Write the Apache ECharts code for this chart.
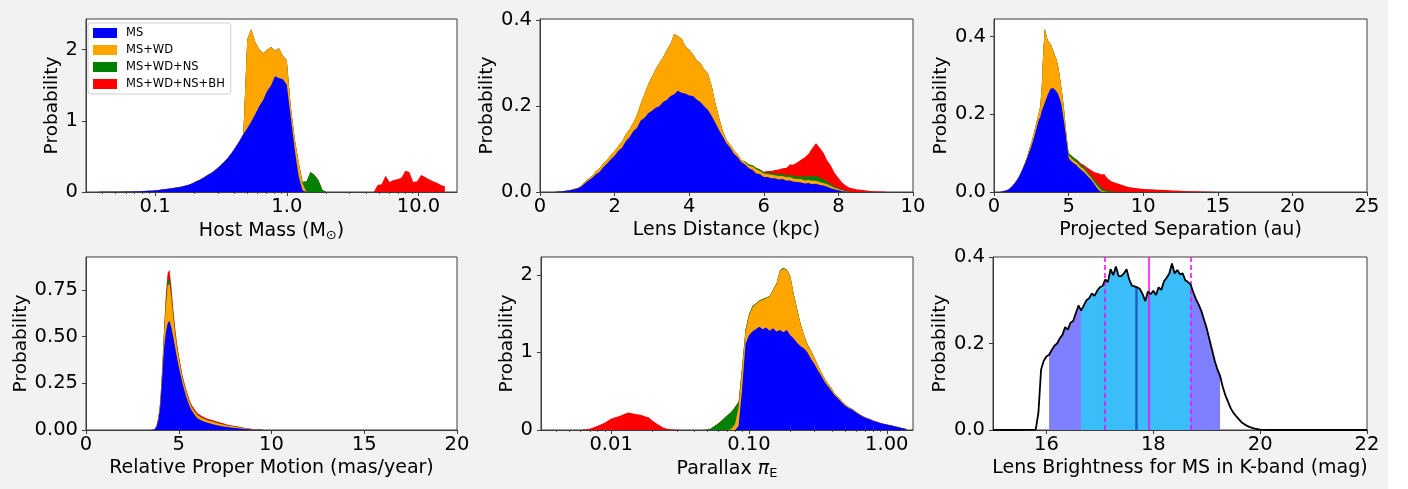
<!DOCTYPE html>
<html><head><meta charset="utf-8">
<script src="https://cdn.jsdelivr.net/npm/echarts@6/dist/echarts.min.js"></script>
<style>
html,body{margin:0;padding:0;background:#fff;}
#c{width:1408px;height:489px;background:linear-gradient(to right,#f2f2f2 0,#f2f2f2 1388px,#ffffff 1388px);}
</style></head><body><div id="c"></div>
<script>
// ---------- legend / categories ----------
const NAMES = ['MS', 'MS+WD', 'MS+WD+NS', 'MS+WD+NS+BH'];
const COLORS = ['#0000ff', '#ffa500', '#008000', '#ff0000'];

// ---------- Panel 1: Host mass (log bins) ----------
const massBins = [0.0339,0.0363,0.0389,0.0417,0.0447,0.0479,0.0513,0.0550,0.0589,0.0631,
0.0676,0.0724,0.0776,0.0832,0.0891,0.0955,0.102,0.110,0.117,0.126,
0.135,0.145,0.155,0.166,0.178,0.191,0.204,0.219,0.234,0.251,
0.269,0.288,0.309,0.331,0.355,0.380,0.407,0.437,0.468,0.501,
0.537,0.575,0.617,0.661,0.708,0.759,0.813,0.871,0.933,1.000,
1.072,1.148,1.230,1.318,1.413,1.514,1.622,1.738,1.862,1.995,
2.138,2.291,2.455,2.630,2.818,3.020,3.236,3.467,3.715,3.981,
4.266,4.571,4.898,5.248,5.623,6.026,6.457,6.918,7.413,7.943,
8.511,9.120,9.772,10.47,11.22,12.02,12.88,13.80,14.79,15.85];
const massMS = [0,0.001,0.002,0.002,0.003,0.003,0.004,0.005,0.006,0.007,
0.008,0.010,0.011,0.013,0.016,0.019,0.024,0.030,0.037,0.045,
0.053,0.062,0.071,0.083,0.098,0.120,0.146,0.172,0.203,0.238,
0.272,0.312,0.360,0.415,0.475,0.545,0.625,0.715,0.810,0.895,
0.985,1.090,1.205,1.290,1.415,1.495,1.625,1.600,1.585,1.510,
1.050,0.600,0.220,0.020,0,0,0,0,0,0,
0,0,0,0,0,0,0,0,0,0,
0,0,0,0,0,0,0,0,0,0,
0,0,0,0,0,0,0,0,0,0];
const massWD = [0,0,0,0,0,0,0,0,0,0,
0,0,0,0,0,0,0,0,0,0,
0,0,0,0,0,0,0,0,0,0,
0,0,0,0,0,0,0,0,0,1.25,
1.30,1.02,0.80,0.66,0.58,0.54,0.36,0.42,0.33,0.34,
0.15,0.15,0.20,0.10,0,0,0,0,0,0,
0,0,0,0,0,0,0,0,0,0,
0,0,0,0,0,0,0,0,0,0,
0,0,0,0,0,0,0,0,0,0];
const massNS = [0,0,0,0,0,0,0,0,0,0,
0,0,0,0,0,0,0,0,0,0,
0,0,0,0,0,0,0,0,0,0,
0,0,0,0,0,0,0,0,0,0,
0,0,0,0,0,0,0,0,0,0,
0,0,0,0.02,0.15,0.28,0.24,0.17,0.03,0,
0,0,0,0,0,0,0,0,0,0,
0,0,0,0,0,0,0,0,0,0,
0,0,0,0,0,0,0,0,0,0];
const massBH = [0,0,0,0,0,0,0,0,0,0,
0,0,0,0,0,0,0,0,0,0,
0,0,0,0,0,0,0,0,0,0,
0,0,0,0,0,0,0,0,0,0,
0,0,0,0,0,0,0,0,0,0,
0,0,0,0,0,0,0,0,0,0,
0,0,0,0,0,0,0,0,0,0,
0,0,0.10,0.11,0.23,0.14,0.17,0.18,0.20,0.30,
0.28,0.14,0.15,0.24,0.21,0.18,0.15,0.13,0.10,0.08];
const massTicks = [0.1, 1, 10];
const massMinorTicks = [0.04,0.05,0.06,0.07,0.08,0.09,0.2,0.3,0.4,0.5,0.6,0.7,0.8,0.9,2,3,4,5,6,7,8,9];
const massYTicks = [0, 1, 2];

// ---------- Panel 2: Lens distance ----------
const distBins = [0.4,0.5,0.6,0.7,0.8,0.9,
1.0,1.1,1.2,1.3,1.4,1.5,1.6,1.7,1.8,1.9,
2.0,2.1,2.2,2.3,2.4,2.5,2.6,2.7,2.8,2.9,
3.0,3.1,3.2,3.3,3.4,3.5,3.6,3.7,3.8,3.9,
4.0,4.1,4.2,4.3,4.4,4.5,4.6,4.7,4.8,4.9,
5.0,5.1,5.2,5.3,5.4,5.5,5.6,5.7,5.8,5.9,
6.0,6.1,6.2,6.3,6.4,6.5,6.6,6.7,6.8,6.9,
7.0,7.1,7.2,7.3,7.4,7.5,7.6,7.7,7.8,7.9,
8.0,8.1,8.2,8.3,8.4,8.5,8.6,8.7,8.8,8.9,
9.0,9.1,9.2,9.3,9.4,9.5];
const distMS = [0,0.001,0.002,0.003,0.004,0.006,
0.008,0.012,0.020,0.027,0.033,0.041,0.047,0.058,0.066,0.076,
0.084,0.096,0.103,0.118,0.127,0.141,0.149,0.166,0.172,0.183,
0.189,0.196,0.199,0.209,0.214,0.223,0.227,0.235,0.230,0.229,
0.224,0.223,0.215,0.209,0.199,0.191,0.177,0.161,0.144,0.129,
0.113,0.103,0.089,0.081,0.069,0.064,0.055,0.051,0.043,0.041,
0.035,0.035,0.032,0.032,0.029,0.030,0.027,0.027,0.024,0.023,
0.022,0.020,0.021,0.018,0.019,0.016,0.015,0.012,0.009,0.006,
0.004,0.002,0.001,0,0,0,0,0,0,0,
0,0,0,0,0,0];
const distWD = [0,0,0,0,0,0.001,
0.001,0.002,0.003,0.004,0.005,0.007,0.008,0.008,0.009,0.010,
0.011,0.011,0.014,0.016,0.019,0.020,0.030,0.039,0.056,0.067,
0.079,0.089,0.101,0.104,0.116,0.121,0.141,0.127,0.126,0.109,
0.106,0.097,0.091,0.091,0.086,0.085,0.070,0.046,0.029,0.013,
0.008,0.007,0.008,0.006,0.005,0.005,0.006,0.008,0.010,0.008,
0.008,0.007,0.008,0.007,0.008,0.007,0.007,0.008,0.007,0.007,
0.008,0.007,0.007,0.008,0.007,0.007,0.006,0.006,0.005,0.004,
0.003,0.002,0.001,0,0,0,0,0,0,0,
0,0,0,0,0,0];
const distNS = [0,0,0,0,0,0,
0,0,0,0,0,0,0,0,0,0,
0,0,0,0,0,0,0,0,0,0,
0,0,0,0,0,0,0,0,0,0,
0,0,0,0,0,0,0,0,0,0,
0,0,0,0,0,0.002,0.003,0.003,0.003,0.003,
0.003,0.003,0.004,0.004,0.004,0.005,0.005,0.005,0.006,0.006,
0.007,0.008,0.009,0.010,0.012,0.010,0.008,0.006,0.004,0.003,
0.002,0.002,0.001,0.001,0,0,0,0,0,0,
0,0,0,0,0,0];
const distBH = [0,0,0,0,0,0,
0,0,0,0,0,0,0,0,0,0,
0,0,0,0,0,0,0,0,0,0,
0,0,0,0,0,0,0,0,0,0,
0,0,0,0,0,0,0,0,0,0,
0,0,0,0,0,0,0,0,0,0,
0.001,0.004,0.005,0.008,0.011,0.013,0.017,0.024,0.027,0.033,
0.038,0.046,0.052,0.066,0.075,0.070,0.062,0.050,0.043,0.031,
0.024,0.016,0.012,0.009,0.008,0.006,0.005,0.004,0.003,0.002,
0.002,0.001,0.001,0,0,0];
const distTicks = [0, 2, 4, 6, 8, 10];
const distYTicks = [0, 0.2, 0.4];

// ---------- Panel 3: Projected separation ----------
const sepBins = [0.4,0.5,0.6,0.7,0.8,0.9,
1.0,1.1,1.2,1.3,1.4,1.5,1.6,1.7,1.8,1.9,
2.0,2.1,2.2,2.3,2.4,2.5,2.6,2.7,2.8,2.9,
3.0,3.1,3.2,3.3,3.4,3.5,3.6,3.7,3.8,3.9,
4.0,4.1,4.2,4.3,4.4,4.5,4.6,4.7,4.8,4.9,
5.0,5.1,5.2,5.3,5.4,5.5,5.6,5.7,5.8,5.9,
6.0,6.1,6.2,6.3,6.4,6.5,6.6,6.7,6.8,6.9,
7.0,7.1,7.2,7.3,7.4,7.5,7.6,7.7,7.8,7.9,
8.0,
8.5,9.0,9.5,10.0,10.5,11.0,11.5,12.0,12.5,13.0,13.5,14.0,14.5,15.0];
const sepMS = [0,0.001,0.002,0.003,0.004,0.005,
0.007,0.010,0.014,0.018,0.023,0.028,0.034,0.041,0.049,0.057,
0.066,0.075,0.085,0.096,0.107,0.117,0.130,0.143,0.157,0.171,
0.186,0.192,0.209,0.212,0.229,0.234,0.250,0.255,0.266,0.262,
0.267,0.265,0.258,0.252,0.240,0.229,0.205,0.178,0.150,0.120,
0.088,0.082,0.078,0.075,0.072,0.070,0.066,0.062,0.058,0.055,
0.053,0.049,0.045,0.040,0.036,0.032,0.027,0.022,0.016,0.010,
0.005,0.002,0,0,0,0,0,0,0,0,
0,
0,0,0,0,0,0,0,0,0,0,0,0,0,0];
const sepWD = [0,0,0,0,0,0,
0,0,0,0,0,0.001,0.001,0.001,0.001,0.001,
0.002,0.003,0.004,0.006,0.008,0.009,0.011,0.013,0.015,0.016,
0.017,0.028,0.061,0.148,0.191,0.171,0.140,0.140,0.114,0.108,
0.093,0.090,0.082,0.071,0.060,0.043,0.040,0.032,0.020,0.010,
0.006,0.008,0.008,0.009,0.008,0.008,0.008,0.007,0.007,0.007,
0.007,0.007,0.006,0.006,0.006,0.006,0.006,0.006,0.006,0.007,
0.007,0.006,0.004,0.002,0.001,0,0,0,0,0,
0,
0,0,0,0,0,0,0,0,0,0,0,0,0,0];
const sepNS = [0,0,0,0,0,0,
0,0,0,0,0,0,0,0,0,0,
0,0,0,0,0,0,0,0,0,0,
0,0,0,0,0,0,0,0,0,0,
0,0,0,0,0,0,0,0,0,0.002,
0.006,0.007,0.007,0.007,0.007,0.007,0.006,0.006,0.006,0.006,
0.006,0.006,0.005,0.005,0.005,0.005,0.005,0.005,0.006,0.007,
0.008,0.008,0.007,0.006,0.005,0.004,0.003,0.002,0.002,0.001,
0.001,
0,0,0,0,0,0,0,0,0,0,0,0,0,0];
const sepBH = [0,0,0,0,0,0,
0,0,0,0,0,0,0,0,0,0,
0,0,0,0,0,0,0,0,0,0,
0,0,0,0,0,0,0,0,0,0,
0,0,0,0,0,0,0,0,0,0,
0,0,0,0,0,0.001,0.002,0.002,0.003,0.003,
0.004,0.006,0.008,0.010,0.012,0.014,0.016,0.019,0.022,0.025,
0.028,0.031,0.034,0.038,0.040,0.036,0.032,0.030,0.028,0.026,
0.025,
0.019,0.013,0.010,0.008,0.007,0.006,0.005,0.004,0.003,0.002,0.002,0.001,0.0005,0];
const sepTicks = [0, 5, 10, 15, 20, 25];
const sepYTicks = [0, 0.2, 0.4];

// ---------- Panel 4: Relative proper motion ----------
const pmBins = [3.5,3.6,3.7,3.8,3.9,
4.0,4.1,4.2,4.3,4.4,4.5,4.6,4.7,4.8,4.9,
5.0,5.1,5.2,5.3,5.4,5.5,5.6,5.7,5.8,5.9,
6.0,6.1,6.2,6.3,6.4,6.5,6.6,6.7,6.8,6.9,
7.0,7.1,7.2,7.3,7.4,7.5,7.6,7.7,7.8,7.9,
8.0,8.1,8.2,8.3,8.4,8.5,8.6,8.7,8.8,8.9,
9.0,9.1,9.2,9.3,9.4,9.5,9.6,9.7,9.8,9.9,
10.0];
const pmMS = [0,0,0.004,0.018,0.054,
0.125,0.27,0.43,0.52,0.57,0.585,0.55,0.50,0.446,0.39,
0.34,0.295,0.25,0.215,0.18,0.15,0.125,0.105,0.09,0.075,
0.063,0.057,0.052,0.048,0.044,0.040,0.037,0.034,0.032,0.029,
0.027,0.025,0.023,0.021,0.019,0.018,0.016,0.015,0.013,0.012,
0.011,0.010,0.009,0.008,0.007,0.006,0.005,0.005,0.004,0.003,
0.003,0.002,0.002,0.001,0.001,0.001,0,0,0,0,
0];
const pmWD = [0,0,0.001,0.004,0.010,
0.018,0.03,0.07,0.14,0.20,0.20,0.16,0.11,0.074,0.056,
0.044,0.036,0.027,0.025,0.025,0.022,0.018,0.017,0.017,0.017,
0.017,0.016,0.015,0.015,0.014,0.014,0.013,0.013,0.013,0.012,
0.012,0.011,0.011,0.010,0.010,0.009,0.008,0.008,0.008,0.007,
0.007,0.006,0.006,0.005,0.005,0.004,0.004,0.003,0.003,0.003,
0.002,0.002,0.001,0.001,0.001,0.001,0,0,0,0,
0];
const pmNS = [0,0,0,0,0.001,
0.004,0.008,0.015,0.025,0.03,0.03,0.025,0.018,0.012,0.008,
0.006,0.005,0.005,0.004,0.004,0.004,0.004,0.003,0.003,0.003,
0.003,0.003,0.003,0.002,0.002,0.002,0.002,0.002,0.002,0.002,
0.002,0.002,0.002,0.002,0.002,0.001,0.001,0.001,0.001,0.001,
0.001,0.001,0.001,0.001,0.001,0,0,0,0,0,
0,0,0,0,0,0,0,0,0,0,
0];
const pmBH = [0,0,0,0,0.001,
0.003,0.006,0.012,0.03,0.04,0.045,0.035,0.025,0.018,0.015,
0.013,0.012,0.011,0.011,0.010,0.010,0.010,0.009,0.009,0.009,
0.008,0.008,0.008,0.007,0.007,0.007,0.007,0.006,0.006,0.006,
0.006,0.005,0.005,0.005,0.005,0.004,0.004,0.004,0.004,0.003,
0.003,0.003,0.003,0.002,0.002,0.002,0.002,0.002,0.001,0.001,
0.001,0.001,0.001,0.001,0.001,0,0,0,0,0,
0];
const pmTicks = [0, 5, 10, 15, 20];
const pmYTicks = [0, 0.25, 0.5, 0.75];

// ---------- Panel 5: Parallax (log bins) ----------
const plxBins = [0.00562,0.00596,0.00631,0.00668,0.00708,0.00750,0.00794,0.00841,0.00891,0.00944,
0.0100,0.01059,0.01122,0.01189,0.01259,0.01334,0.01413,0.01496,0.01585,0.01679,
0.01778,0.01884,0.01995,0.02113,0.02239,0.02371,0.02512,0.02661,0.02818,0.02985,
0.03162,0.03350,0.03548,0.03758,0.03981,0.04217,0.04467,0.04732,0.05012,0.05309,
0.05623,0.05957,0.06310,0.06683,0.07079,0.07499,0.07943,0.08414,0.08913,0.09441,
0.1000,0.1059,0.1122,0.1189,0.1259,0.1334,0.1413,0.1496,0.1585,0.1679,
0.1778,0.1884,0.1995,0.2113,0.2239,0.2371,0.2512,0.2661,0.2818,0.2985,
0.3162,0.3350,0.3548,0.3758,0.3981,0.4217,0.4467,0.4732,0.5012,0.5309,
0.5623,0.5957,0.6310,0.6683,0.7079,0.7499,0.7943,0.8414,0.8913,0.9441,
1.000,1.059,1.122,1.189,1.259,1.334,1.413];
const plxMS = [0,0,0,0,0,0,0,0,0,0,
0,0,0,0,0,0,0,0,0,0,
0,0,0,0,0,0,0,0,0,0,
0,0,0,0,0,0,0,0,0,0,
0,0,0,0,0,0,0,0.05,0.52,1.11,
1.22,1.27,1.30,1.33,1.30,1.32,1.28,1.31,1.27,1.29,
1.26,1.29,1.22,1.18,1.12,1.08,1.05,1.00,0.92,0.85,
0.77,0.70,0.62,0.56,0.50,0.44,0.40,0.35,0.31,0.28,
0.26,0.23,0.20,0.175,0.155,0.14,0.12,0.105,0.09,0.08,
0.07,0.06,0.05,0.04,0.03,0.02,0.01];
const plxWD = [0,0,0,0,0,0,0,0,0,0,
0,0,0,0,0,0,0,0,0,0,
0,0,0,0,0,0,0,0,0,0,
0,0,0,0,0,0,0,0,0,0,
0,0,0,0,0,0.02,0.08,0.25,0.25,0.15,
0.25,0.31,0.32,0.33,0.38,0.38,0.44,0.49,0.61,0.76,
0.82,0.77,0.76,0.57,0.43,0.28,0.17,0.10,0.10,0.08,
0.06,0.04,0.04,0.03,0.03,0.02,0.02,0.015,0.012,0.010,
0.008,0.007,0.006,0.005,0.004,0.004,0.003,0.003,0.002,0.002,
0.002,0.001,0.001,0.001,0,0,0];
const plxNS = [0,0,0,0,0,0,0,0,0,0,
0,0,0,0,0,0,0,0,0,0,
0,0,0,0,0,0,0,0,0,0,
0,0,0,0,0,0,0,0,0.005,0.02,
0.05,0.08,0.12,0.16,0.20,0.22,0.22,0.06,0.04,0.03,
0.02,0.015,0.012,0.01,0.008,0.008,0.008,0.008,0.008,0.008,
0.008,0.006,0.006,0.006,0.006,0.006,0.006,0.006,0.004,0.004,
0.004,0.004,0.004,0.004,0.004,0.002,0.002,0.002,0.002,0.002,
0.002,0,0,0,0,0,0,0,0,0,
0,0,0,0,0,0,0];
const plxBH = [0,0,0.005,0.01,0.02,0.035,0.05,0.07,0.09,0.12,
0.145,0.16,0.175,0.19,0.21,0.225,0.215,0.205,0.20,0.19,
0.175,0.16,0.12,0.09,0.06,0.035,0.02,0.01,0.005,0.002,
0,0,0,0,0,0,0,0,0,0,
0,0,0,0,0,0,0,0,0,0,
0,0,0,0,0,0,0,0,0,0,
0,0,0,0,0,0,0,0,0,0,
0,0,0,0,0,0,0,0,0,0,
0,0,0,0,0,0,0,0,0,0,
0,0,0,0,0,0,0];
const plxTicks = [0.01, 0.1, 1];
const plxMinorTicks = [0.004,0.005,0.006,0.007,0.008,0.009,0.02,0.03,0.04,0.05,0.06,0.07,0.08,0.09,0.2,0.3,0.4,0.5,0.6,0.7,0.8,0.9];
const plxYTicks = [0, 1, 2];

// ---------- Panel 6: K-band lens brightness ----------
const kBins = [15.0,15.4,
15.8,15.85,15.9,15.95,
16.0,16.05,16.1,16.15,16.2,16.25,16.3,16.35,16.4,16.45,16.5,16.55,16.6,16.65,16.7,16.75,16.8,16.85,16.9,16.95,
17.0,17.05,17.1,17.15,17.2,17.25,17.3,17.35,17.4,17.45,17.5,17.55,17.6,17.65,17.7,17.75,17.8,17.85,17.9,17.95,
18.0,18.05,18.1,18.15,18.2,18.25,18.3,18.35,18.4,18.45,18.5,18.55,18.6,18.65,18.7,18.75,18.8,18.85,18.9,18.95,
19.0,19.05,19.1,19.15,19.2,19.25,19.3,19.35,19.4,19.45,19.5,19.55,19.6,19.65,19.7,19.75,19.8,19.85,19.9,19.95,
20.0,20.2,21.0,22.0];
const kProb = [0,0,
0.001,0.04,0.14,0.16,
0.170,0.174,0.185,0.195,0.200,0.212,0.220,0.238,0.232,0.248,0.252,0.270,0.288,0.276,0.288,0.300,0.305,0.316,0.310,0.322,
0.330,0.333,0.348,0.342,0.372,0.358,0.378,0.356,0.356,0.362,0.372,0.348,0.334,0.332,0.330,0.326,0.314,0.298,0.320,0.314,
0.322,0.312,0.330,0.324,0.344,0.352,0.362,0.385,0.362,0.370,0.360,0.362,0.346,0.342,0.336,0.318,0.302,0.290,0.275,0.255,
0.235,0.210,0.185,0.160,0.140,0.125,0.100,0.080,0.065,0.050,0.040,0.032,0.025,0.018,0.014,0.010,0.007,0.005,0.003,0.002,
0.001,0,0,0];
const kbandOuter = [16.05, 19.25];   // purple shaded interval
const kbandInner = [16.65, 18.70];   // light-blue shaded interval
const kbandPeak = 17.69;             // dark blue marker
const kbandMagenta = 17.91;          // solid magenta line
const kbandMagentaRange = [17.10, 18.71]; // dashed magenta lines
const kTicks = [16, 18, 20, 22];
const kYTicks = [0, 0.2, 0.4];

// ---------- helpers ----------
function check(name, bins, arrs) {
  arrs.forEach((a, j) => { if (a.length !== bins.length) throw new Error(name + ' series ' + j + ' length ' + a.length + ' != ' + bins.length); });
}
check('mass', massBins, [massMS, massWD, massNS, massBH]);
check('dist', distBins, [distMS, distWD, distNS, distBH]);
check('sep', sepBins, [sepMS, sepWD, sepNS, sepBH]);
check('pm', pmBins, [pmMS, pmWD, pmNS, pmBH]);
check('plx', plxBins, [plxMS, plxWD, plxNS, plxBH]);
check('k', kBins, [kProb]);

const FONT = 'DejaVu Sans';
const AX = '#3c3c3c';

function cumulative(comps) {
  const out = [];
  let run = comps[0].map(() => 0);
  comps.forEach(c => { run = run.map((v, i) => v + c[i]); out.push(run); });
  return out;
}
function histSeries(gi, bins, comps) {
  const cum = cumulative(comps);
  const s = [];
  for (let j = 3; j >= 0; j--) {
    s.push({
      type: 'line', name: NAMES[j], xAxisIndex: gi, yAxisIndex: gi,
      symbol: 'none', silent: true,
      lineStyle: { width: 0 }, itemStyle: { color: COLORS[j] },
      areaStyle: { color: COLORS[j], opacity: 1 },
      data: bins.map((x, i) => [x, cum[j][i]])
    });
  }
  return s;
}
function axis(gi, o, isX) {
  return {
    gridIndex: gi, type: o.type || 'value', min: o.min, max: o.max,
    position: isX ? 'bottom' : 'left',
    name: o.name, nameLocation: 'middle', nameGap: o.nameGap,
    nameRotate: isX ? 0 : 90,
    nameTextStyle: { fontFamily: FONT, fontSize: isX ? 19 : 18.5, color: '#000', rich: o.rich || {} },
    axisLine: { show: true, onZero: false, lineStyle: { color: AX, width: 1 } },
    axisTick: { show: true, inside: false, length: 4, customValues: o.ticks, lineStyle: { color: AX, width: 1 } },
    axisLabel: { show: true, customValues: o.ticks, formatter: o.fmt, fontFamily: FONT, fontSize: 19.5, color: '#000', margin: isX ? 5 : 8 },
    splitLine: { show: false }, splitArea: { show: false },
    minorTick: { show: false }, minorSplitLine: { show: false }
  };
}
function minorAxis(gi, min, max, ticks) {
  return {
    gridIndex: gi, type: 'log', min: min, max: max, position: 'bottom',
    axisLine: { show: false }, axisLabel: { show: false },
    axisTick: { show: true, inside: false, length: 2, customValues: ticks, lineStyle: { color: AX, width: 0.8 } },
    splitLine: { show: false }
  };
}
const subRich = { s: { fontFamily: FONT, fontSize: 13, color: '#000', padding: [8, 0, 0, 0] },
                  i: { fontFamily: FONT, fontSize: 19, fontStyle: 'italic', color: '#000' } };

const grids = [
  { left: 86, top: 19, width: 371, height: 173 },
  { left: 540, top: 19, width: 373, height: 173 },
  { left: 994, top: 19, width: 373, height: 173 },
  { left: 86, top: 257, width: 371, height: 173 },
  { left: 541, top: 257, width: 372, height: 173 },
  { left: 993, top: 257, width: 374, height: 173 }
].map(g => Object.assign({ show: true, backgroundColor: '#ffffff', borderColor: AX, borderWidth: 1, containLabel: false, outerBoundsMode: 'none' }, g));

const fmt1 = v => Number(v).toFixed(1);
const fmt2 = v => Number(v).toFixed(2);
const fmt0 = v => String(v);

const xAxes = [
  axis(0, { type: 'log', min: 0.0299, max: 19.6, ticks: massTicks, fmt: fmt1, name: 'Host Mass (M{s|⊙})', nameGap: 29, rich: subRich }, true),
  axis(1, { min: 0, max: 10, ticks: distTicks, fmt: fmt0, name: 'Lens Distance (kpc)', nameGap: 29 }, true),
  axis(2, { min: 0, max: 25, ticks: sepTicks, fmt: fmt0, name: 'Projected Separation (au)', nameGap: 29 }, true),
  axis(3, { min: 0, max: 20, ticks: pmTicks, fmt: fmt0, name: 'Relative Proper Motion (mas/year)', nameGap: 29 }, true),
  axis(4, { type: 'log', min: 0.0031, max: 1.55, ticks: plxTicks, fmt: fmt2, name: 'Parallax {i|π}{s|E}', nameGap: 29, rich: subRich }, true),
  axis(5, { min: 15, max: 22, ticks: kTicks, fmt: fmt0, name: 'Lens Brightness for MS in K-band (mag)', nameGap: 29 }, true),
  minorAxis(0, 0.0299, 19.6, massMinorTicks),
  minorAxis(4, 0.0031, 1.55, plxMinorTicks)
];
const yAxes = [
  axis(0, { min: 0, max: 2.43, ticks: massYTicks, fmt: fmt0, name: 'Probability', nameGap: 17.5 }, false),
  axis(1, { min: 0, max: 0.402, ticks: distYTicks, fmt: fmt1, name: 'Probability', nameGap: 36.5 }, false),
  axis(2, { min: 0, max: 0.445, ticks: sepYTicks, fmt: fmt1, name: 'Probability', nameGap: 35 }, false),
  axis(3, { min: 0, max: 0.927, ticks: pmYTicks, fmt: fmt2, name: 'Probability', nameGap: 49 }, false),
  axis(4, { min: 0, max: 2.23, ticks: plxYTicks, fmt: fmt0, name: 'Probability', nameGap: 21 }, false),
  axis(5, { min: 0, max: 0.4, ticks: kYTicks, fmt: fmt1, name: 'Probability', nameGap: 33.5 }, false)
];

let series = [];
series = series.concat(histSeries(0, massBins, [massMS, massWD, massNS, massBH]));
series = series.concat(histSeries(1, distBins, [distMS, distWD, distNS, distBH]));
series = series.concat(histSeries(2, sepBins, [sepMS, sepWD, sepNS, sepBH]));
series = series.concat(histSeries(3, pmBins, [pmMS, pmWD, pmNS, pmBH]));
series = series.concat(histSeries(4, plxBins, [plxMS, plxWD, plxNS, plxBH]));

// panel 6
function kValueAt(x) {
  for (let i = 1; i < kBins.length; i++) {
    if (kBins[i] >= x) {
      const t = (x - kBins[i - 1]) / (kBins[i] - kBins[i - 1]);
      return kProb[i - 1] + t * (kProb[i] - kProb[i - 1]);
    }
  }
  return 0;
}
function kRange(r) {
  return kBins.map((x, i) => [x, kProb[i]]).filter(p => p[0] >= r[0] - 1e-9 && p[0] <= r[1] + 1e-9);
}
series.push({
  type: 'line', xAxisIndex: 5, yAxisIndex: 5, symbol: 'none', silent: true,
  lineStyle: { width: 0 }, areaStyle: { color: '#8080ff', opacity: 1 }, data: kRange(kbandOuter)
});
series.push({
  type: 'line', xAxisIndex: 5, yAxisIndex: 5, symbol: 'none', silent: true,
  lineStyle: { width: 0 }, areaStyle: { color: '#3bbdfa', opacity: 1 }, data: kRange(kbandInner),
  markLine: {
    silent: true, symbol: ['none', 'none'], label: { show: false },
    data: [
      [{ coord: [kbandPeak, 0], lineStyle: { color: '#1d5fc4', width: 2.5, type: 'solid' } },
       { coord: [kbandPeak, kValueAt(kbandPeak)] }],
      { xAxis: kbandMagenta, lineStyle: { color: '#ff00ff', width: 1.5, type: 'solid' } },
      { xAxis: kbandMagentaRange[0], lineStyle: { color: '#ff00ff', width: 1.5, type: [5, 3] } },
      { xAxis: kbandMagentaRange[1], lineStyle: { color: '#ff00ff', width: 1.5, type: [5, 3] } }
    ]
  }
});
series.push({
  type: 'line', xAxisIndex: 5, yAxisIndex: 5, symbol: 'none', silent: true, z: 5,
  lineStyle: { color: '#000', width: 1.8 }, data: kBins.map((x, i) => [x, kProb[i]])
});

const chart = echarts.init(document.getElementById('c'), null, { renderer: 'canvas', width: 1408, height: 489 });
chart.setOption({
  animation: false,
  backgroundColor: 'transparent',
  grid: grids,
  xAxis: xAxes,
  yAxis: yAxes,
  legend: {
    data: NAMES, orient: 'vertical', left: 88, top: 23, icon: 'rect',
    itemWidth: 24, itemHeight: 10, itemGap: 5, padding: [4, 6, 4, 5],
    backgroundColor: 'rgba(255,255,255,0.85)', borderColor: '#d0d0d0', borderWidth: 1, borderRadius: 3,
    selectedMode: false,
    textStyle: { fontFamily: FONT, fontSize: 11.5, color: '#000', lineHeight: 12, padding: [0, 0, 0, 4] }
  },
  series: series
});
</script>
</body></html>
